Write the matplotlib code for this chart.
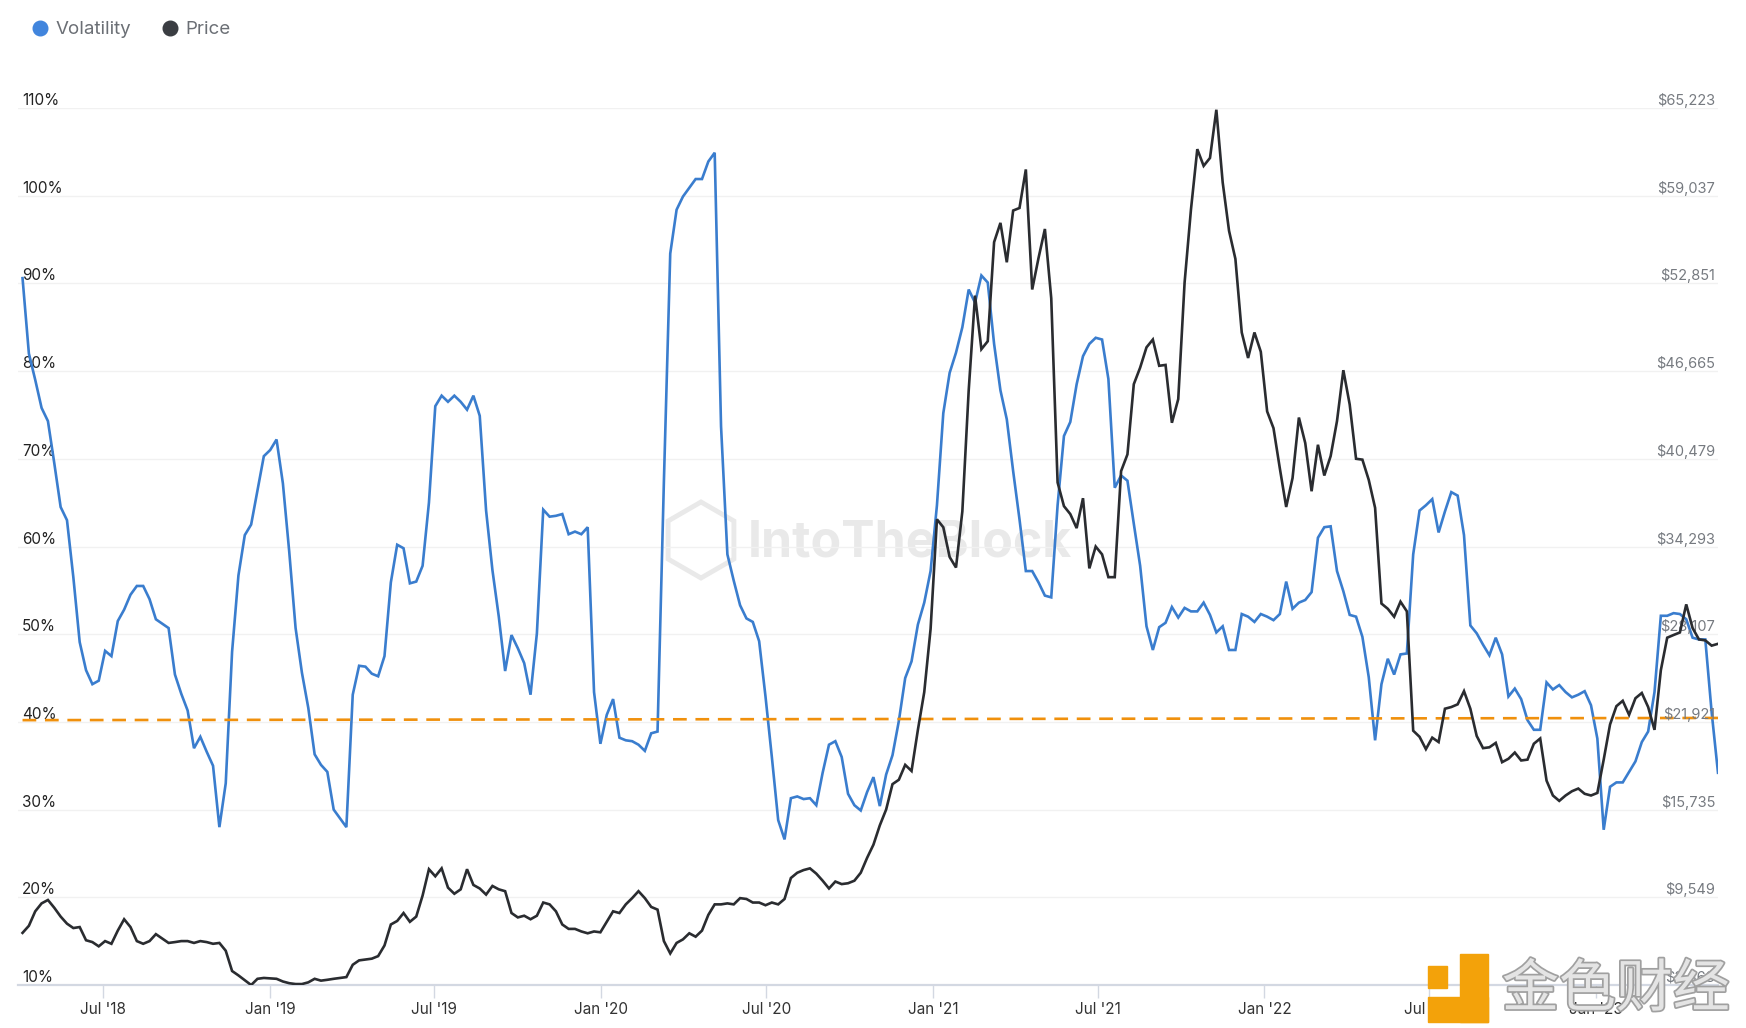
import matplotlib
matplotlib.use("Agg")
import matplotlib.pyplot as plt
import matplotlib.patheffects as pe
from matplotlib.lines import Line2D
from matplotlib.patches import Rectangle, RegularPolygon
import pandas as pd

# weekly series, first point 2018-04-03
start_date = "2018-04-03"

volatility = [
    90.6, 82.0, 79.0, 75.8, 74.3, 69.5, 64.5, 63.0, 56.5, 49.1,
    45.9, 44.3, 44.7, 48.1, 47.5, 51.5, 52.8, 54.5, 55.5, 55.5,
    54.0, 51.7, 51.2, 50.7, 45.4, 43.2, 41.3, 37.0, 38.3, 36.6,
    35.0, 28.0, 33.0, 48.0, 56.7, 61.3, 62.5, 66.4, 70.3, 71.0,
    72.2, 67.2, 59.4, 50.7, 45.6, 41.6, 36.3, 35.1, 34.3, 30.0,
    29.0, 28.0, 43.1, 46.4, 46.3, 45.5, 45.2, 47.5, 55.9, 60.2,
    59.8, 55.8, 56.0, 57.8, 65.0, 76.0, 77.2, 76.5, 77.2, 76.5,
    75.6, 77.2, 74.9, 64.1, 57.3, 52.0, 45.8, 49.9, 48.4, 46.7,
    43.1, 50.1, 64.2, 63.4, 63.5, 63.7, 61.4, 61.7, 61.4, 62.2,
    43.4, 37.5, 40.8, 42.6, 38.2, 37.9, 37.8, 37.4, 36.7, 38.7,
    38.9, 67.4, 93.4, 98.4, 99.9, 100.9, 101.9, 101.9, 103.9, 104.9,
    73.7, 59.1, 56.1, 53.3, 51.8, 51.4, 49.2, 42.9, 36.0, 28.8,
    26.6, 31.3, 31.5, 31.2, 31.3, 30.5, 34.2, 37.4, 37.8, 36.0,
    31.8, 30.5, 29.9, 32.0, 33.7, 30.4, 34.0, 36.2, 40.1, 45.0,
    46.9, 51.1, 53.6, 57.2, 64.7, 75.2, 79.8, 82.1, 85.0, 89.3,
    87.8, 90.9, 90.1, 83.1, 77.8, 74.5, 68.6, 63.1, 57.2, 57.2,
    55.9, 54.4, 54.2, 64.7, 72.6, 74.2, 78.5, 81.7, 83.1, 83.8,
    83.6, 79.1, 66.7, 68.1, 67.5, 62.6, 57.8, 50.9, 48.2, 50.8,
    51.3, 53.1, 51.9, 53.0, 52.6, 52.6, 53.6, 52.2, 50.2, 50.9,
    48.2, 48.2, 52.3, 52.0, 51.4, 52.3, 52.0, 51.6, 52.3, 56.0,
    52.9, 53.6, 53.9, 54.8, 61.0, 62.2, 62.3, 57.2, 54.9, 52.2,
    52.0, 49.7, 45.1, 37.9, 44.3, 47.2, 45.4, 47.7, 47.8, 59.1,
    64.1, 64.7, 65.4, 61.6, 64.0, 66.2, 65.8, 61.3, 51.0, 50.1,
    48.8, 47.6, 49.6, 47.7, 42.9, 43.8, 42.6, 40.2, 39.1, 39.1,
    44.5, 43.7, 44.2, 43.4, 42.8, 43.1, 43.5, 41.9, 38.1, 27.7,
    32.6, 33.1, 33.1, 34.3, 35.5, 37.7, 38.9, 43.4, 52.1, 52.1,
    52.4, 52.3, 51.7, 49.6, 49.4, 49.4, 41.1, 34.2,
]

price = [
    7040, 7540, 8560, 9120, 9360, 8810, 8190, 7690, 7380, 7450,
    6520, 6390, 6090, 6460, 6270, 7200, 8000, 7450, 6460, 6270,
    6460, 6950, 6640, 6330, 6390, 6460, 6460, 6330, 6460, 6390,
    6270, 6330, 5780, 4350, 4040, 3700, 3360, 3800, 3860, 3830,
    3800, 3610, 3490, 3430, 3430, 3550, 3800, 3670, 3730, 3800,
    3860, 3920, 4790, 5100, 5160, 5220, 5400, 6150, 7630, 7880,
    8440, 7820, 8190, 9670, 11530, 11030, 11590, 10230, 9800, 10110,
    11530, 10420, 10170, 9740, 10350, 10110, 9980, 8440, 8130, 8250,
    8000, 8250, 9180, 9050, 8560, 7630, 7320, 7320, 7140, 7010,
    7140, 7080, 7820, 8560, 8440, 9050, 9490, 9980, 9490, 8870,
    8680, 6460, 5590, 6330, 6580, 7010, 6770, 7200, 8310, 9050,
    9050, 9120, 9050, 9490, 9430, 9180, 9180, 8990, 9180, 9050,
    9430, 10910, 11280, 11470, 11590, 11220, 10720, 10170, 10660, 10480,
    10540, 10720, 11280, 12330, 13260, 14620, 15740, 17530, 17840, 18890,
    18460, 21360, 24020, 28480, 36210, 35650, 33550, 32810, 36770, 45300,
    51990, 48210, 48770, 55760, 57120, 54340, 57990, 58170, 60890, 52420,
    54650, 56690, 51800, 38810, 37140, 36580, 35590, 37700, 32750, 34290,
    33740, 32130, 32130, 39610, 40790, 45740, 46910, 48340, 48890, 47040,
    47100, 43020, 44690, 52910, 58050, 62320, 61140, 61700, 65100, 59970,
    56560, 54580, 49390, 47590, 49390, 48030, 43820, 42640, 39800, 37080,
    39120, 43390, 41590, 38190, 41470, 39300, 40670, 43140, 46730, 44310,
    40480, 40420, 38990, 37020, 30270, 29900, 29340, 30400, 29720, 21300,
    20870, 20000, 20810, 20500, 22850, 22970, 23160, 24090, 22850, 20930,
    20070, 20130, 20440, 19080, 19320, 19760, 19200, 19260, 20380, 20750,
    17780, 16730, 16350, 16730, 17030, 17220, 16850, 16730, 16910, 19260,
    21740, 23030, 23410, 22420, 23590, 23960, 22970, 21360, 25570, 27860,
    28050, 28230, 30210, 28540, 27740, 27670, 27300, 27430,
]

# dashed reference line (start / end level, %)
ref_line = [40.2, 40.45]

vol_ticks = [10, 20, 30, 40, 50, 60, 70, 80, 90, 100, 110]
price_ticks = [3363, 9549, 15735, 21921, 28107, 34293, 40479, 46665, 52851, 59037, 65223]
x_tick_dates = ["2018-07-01", "2019-01-01", "2019-07-01", "2020-01-01", "2020-07-01",
                "2021-01-01", "2021-07-01", "2022-01-01", "2022-07-01", "2023-01-01"]
x_tick_labels = ["Jul '18", "Jan '19", "Jul '19", "Jan '20", "Jul '20",
                 "Jan '21", "Jul '21", "Jan '22", "Jul '22", "Jan '23"]

dates = pd.date_range(start_date, periods=len(volatility), freq="7D")

plt.rcParams['font.family'] = ['Inter', 'DejaVu Sans']

W, H = 1746, 1028
fig = plt.figure(figsize=(W / 100, H / 100), dpi=100)
ax = fig.add_axes([18 / W, 1 - 985 / H, 1700 / W, 877 / H])
ax2 = ax.twinx()

ax.set_xlim(pd.Timestamp("2018-03-29"), pd.Timestamp("2023-05-16"))
ax.set_ylim(10, 110)
ax2.set_ylim(price_ticks[0], price_ticks[-1])

# watermark behind the lines
ax.text(748 / W, 1 - 543 / H, "IntoTheBlock", transform=fig.transFigure, fontsize=36,
        fontweight="bold", color="#e9e9e9", va="center", ha="left", zorder=0.5)
ax.add_patch(RegularPolygon((701, H - 540), 6, radius=38, orientation=0, fill=False,
                            lw=3.5, ec="#e9e9e9", transform=None, zorder=0.5))

ax.grid(axis="y", color="#f1f1f1", lw=1)
ax.set_axisbelow(True)

ax.plot(dates, volatility, color="#3a7dce", lw=1.9, zorder=2, solid_joinstyle="miter")
ax.plot([dates[0], dates[-1]], ref_line, color="#f0900c", lw=1.9,
        dashes=(5.2, 3.3), zorder=3)
ax2.plot(dates, price, color="#2a2c30", lw=1.9, zorder=2, solid_joinstyle="miter")

for a in (ax, ax2):
    for s in a.spines.values():
        s.set_visible(False)
ax.spines["bottom"].set_visible(True)
ax.spines["bottom"].set_color("#d3d8e2")
ax.spines["bottom"].set_linewidth(1.6)

ax.set_xticks(pd.to_datetime(x_tick_dates), x_tick_labels)
ax.tick_params(axis="x", length=9, width=1, color="#d3d8e2", labelsize=11,
               labelcolor="#333333", pad=3)

ax.set_yticks(vol_ticks, [f"{v}%" for v in vol_ticks], ha="left", va="bottom")
ax.tick_params(axis="y", length=0, pad=-3, labelsize=11, labelcolor="#222222")

ax2.set_yticks(price_ticks, [f"${p:,}" for p in price_ticks], ha="right", va="bottom")
ax2.tick_params(axis="y", length=0, pad=-2, labelsize=10.5, labelcolor="#767a80")

handles = [
    Line2D([], [], marker="o", ls="none", markersize=10.5, color="#4185dd", label="Volatility"),
    Line2D([], [], marker="o", ls="none", markersize=10.5, color="#3a3d42", label="Price"),
]
fig.legend(handles=handles, loc="upper left", bbox_to_anchor=(31 / W, 1 - 21 / H), ncol=2,
           frameon=False, fontsize=13.5, labelcolor="#6b6f75", handletextpad=0.3,
           columnspacing=1.6, handlelength=1.0, borderaxespad=0, borderpad=0)

# site logo in the corner
for x0, y0, w, h in [(1428, 966, 19, 22), (1460, 954, 28, 68), (1428, 997, 60, 25)]:
    fig.patches.append(Rectangle((x0, H - y0 - h), w, h, color="#f3a20a",
                                 transform=None, zorder=6))
fig.text(1502 / W, 1 - 990 / H, "金色财经", fontsize=41, family=["Noto Sans CJK SC"],
         color="#e4e4e4", va="center", ha="left", zorder=7,
         path_effects=[pe.withStroke(linewidth=2.5, foreground="#a0a0a0")])

fig.savefig("out.png", dpi=100)
